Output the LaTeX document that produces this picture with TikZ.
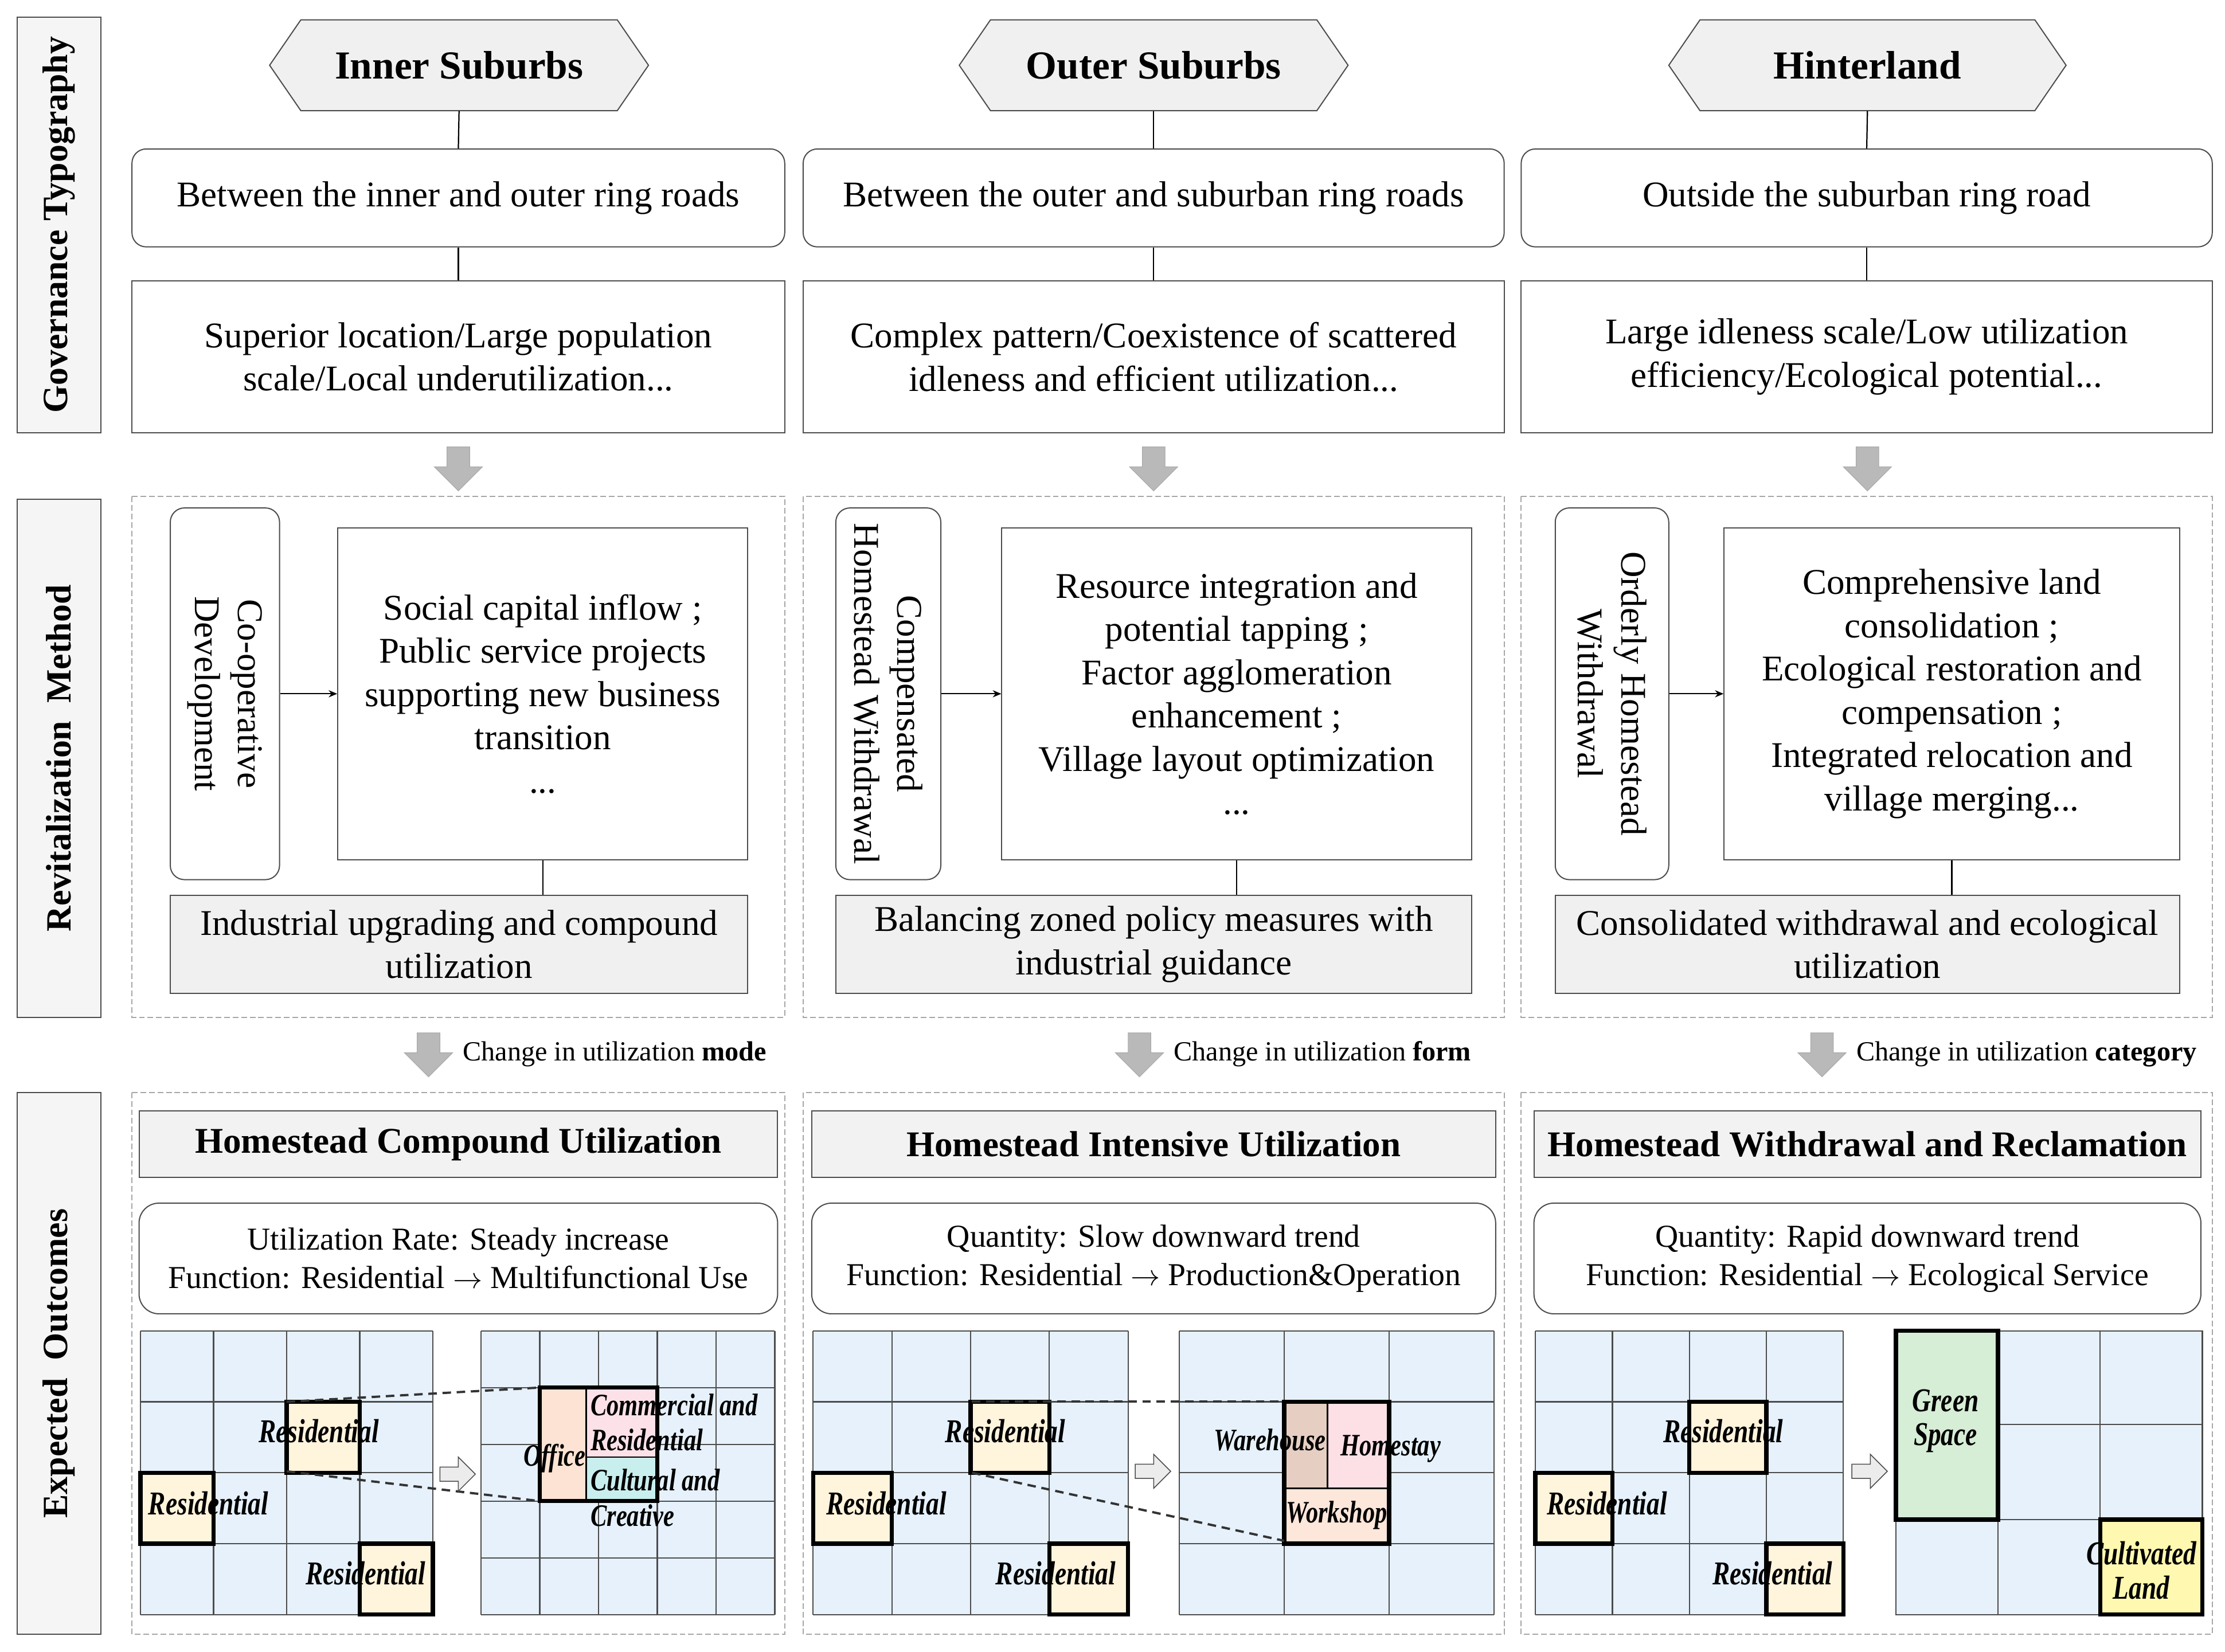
\documentclass[tikz,border=0pt]{standalone}
\usepackage{fontspec}
\setmainfont{Liberation Serif}
\usetikzlibrary{arrows.meta}
\definecolor{gridfill}{HTML}{E6F1FB}
\definecolor{resfill}{HTML}{FFF4DC}
\definecolor{offfill}{HTML}{FDE3D3}
\definecolor{comfill}{HTML}{FCE1E8}
\definecolor{culfill}{HTML}{C9EEEE}
\definecolor{warfill}{HTML}{E6CFC2}
\definecolor{homfill}{HTML}{FDE0E6}
\definecolor{wrkfill}{HTML}{FDE6DA}
\definecolor{grnfill}{HTML}{D6EDD6}
\definecolor{cultfill}{HTML}{FFF8B0}
\tikzset{
 mbox/.style={draw=gray!60!black,line width=0.8pt,fill=white,align=center,inner sep=2pt,font=\fontsize{25.5}{30.5}\selectfont},
 mrbox/.style={mbox,rounded corners=10pt},
 mgbox/.style={mbox,fill=gray!12},
 mside/.style={draw=gray!60!black,line width=0.8pt,fill=gray!8,font=\fontsize{25}{28}\selectfont\bfseries,rotate=90,align=center},
 mdbox/.style={draw=gray!70,line width=0.8pt,dash pattern=on 4pt off 2pt},
 mhex/.style={draw=gray!60!black,line width=0.8pt,fill=gray!12},
 mlink/.style={draw=black,line width=0.9pt},
 mgridline/.style={draw=gray!60!black,line width=0.9pt},
 mres/.style={draw=black,line width=3pt,fill=resfill},
 mblk/.style={draw=black,line width=3pt},
 mzoom/.style={draw=gray!40!black,line width=1.6pt,dash pattern=on 6pt off 4pt},
 mlbl/.style={inner sep=0pt},
 mobox/.style={mbox,rounded corners=14pt,font=\fontsize{22.5}{27}\selectfont},
 mttl/.style={mbox,fill=gray!10,font=\fontsize{25.5}{28}\selectfont\bfseries},
 mchg/.style={anchor=west,inner sep=0pt,font=\fontsize{19.5}{22}\selectfont},
}
\newcommand\gl[1]{\scalebox{0.78}[1]{\fontsize{23.5}{24}\selectfont\bfseries\itshape\begin{tabular}{@{}c@{}}#1\end{tabular}}}
\newcommand\gls[1]{\scalebox{0.78}[1]{\fontsize{22}{23}\selectfont\bfseries\itshape#1}}
\newcommand\mygrid[6]{%
 \fill[gridfill] (#1,#2) rectangle ++({#3*#5},{#4*#6});
 \foreach \i in {0,...,#5}{\draw[mgridline] ({#1+\i*#3},#2) -- ++(0,{#4*#6});}
 \foreach \j in {0,...,#6}{\draw[mgridline] (#1,{#2+\j*#4}) -- ++({#3*#5},0);}}
\newcommand\myres[5]{% x y cw ch prefix
 \draw[mres] ({#1+2*#3},{#2+#4}) rectangle ++(#3,#4);
 \draw[mres] (#1,{#2+2*#4}) rectangle ++(#3,#4);
 \draw[mres] ({#1+3*#3},{#2+3*#4}) rectangle ++(#3,#4);
 \node[mlbl] (#5a) at ({#1+2.44*#3},{#2+1.48*#4}) {\gl{Residential}};
 \node[mlbl] (#5b) at ({#1+0.93*#3},{#2+2.5*#4}) {\gl{Residential}};
 \node[mlbl] (#5c) at ({#1+3.08*#3},{#2+3.48*#4}) {\gl{Residential}};}
\newcommand\darrow[2]{\filldraw[fill=gray!55,draw=gray!70] ({#1-8},#2) -- ({#1+8},#2) -- ({#1+8},{#2+14}) -- ({#1+17},{#2+14}) -- (#1,{#2+31}) -- ({#1-17},{#2+14}) -- ({#1-8},{#2+14}) -- cycle;}
\newcommand\harrow[2]{\filldraw[fill=gray!15,draw=gray!60!black,line width=0.6pt] (#1,{#2-5}) -- ({#1+13},{#2-5}) -- ({#1+13},{#2-12}) -- ({#1+25},#2) -- ({#1+13},{#2+12}) -- ({#1+13},{#2+5}) -- (#1,{#2+5}) -- cycle;}
\begin{document}
\begin{tikzpicture}[x=1pt,y=-1pt]
\useasboundingbox (0,0) rectangle (1568,1164);
\fill[white] (0,0) rectangle (1568,1164);
% side labels
\node[mside,minimum width=293,minimum height=59] (s1) at (41.5,158.5) {Governance Typography};
\node[mside,minimum width=365,minimum height=59] (s2) at (41.5,534.5) {Revitalization\ \ Method};
\node[mside,minimum width=382,minimum height=59] (s3) at (41.5,961) {Expected\ \ Outcomes};
% containers
\draw[mdbox] (93,350) rectangle (553,717);
\draw[mdbox] (566,350) rectangle (1060,717);
\draw[mdbox] (1072,350) rectangle (1559,717);
\draw[mdbox] (93,770) rectangle (553,1152);
\draw[mdbox] (566,770) rectangle (1060,1152);
\draw[mdbox] (1072,770) rectangle (1559,1152);
% hexagons
\filldraw[mhex] (190,46) -- (212,14) -- (435,14) -- (457,46) -- (435,78) -- (212,78) -- cycle;
\filldraw[mhex] (676,46) -- (698,14) -- (928,14) -- (950,46) -- (928,78) -- (698,78) -- cycle;
\filldraw[mhex] (1176,46) -- (1198,14) -- (1434,14) -- (1456,46) -- (1434,78) -- (1198,78) -- cycle;
\node[font=\fontsize{28}{30}\selectfont\bfseries,minimum height=64] (h1) at (323.5,46) {Inner Suburbs};
\node[font=\fontsize{28}{30}\selectfont\bfseries,minimum height=64] (h2) at (813,46) {Outer Suburbs};
\node[font=\fontsize{28}{30}\selectfont\bfseries,minimum height=64] (h3) at (1316,46) {Hinterland};
% row 1
\node[mrbox,minimum width=460,minimum height=69] (a1) at (323,139.5) {Between the inner and outer ring roads};
\node[mrbox,minimum width=494,minimum height=69] (a2) at (813,139.5) {Between the outer and suburban ring roads};
\node[mrbox,minimum width=487,minimum height=69] (a3) at (1315.5,139.5) {Outside the suburban ring road};
\node[mbox,minimum width=460,minimum height=107] (b1) at (323,251.5) {Superior location/Large population\\scale/Local underutilization...};
\node[mbox,minimum width=494,minimum height=107] (b2) at (813,251.5) {Complex pattern/Coexistence of scattered\\idleness and efficient utilization...};
\node[mbox,minimum width=487,minimum height=107] (b3) at (1315.5,251.5) {Large idleness scale/Low utilization\\efficiency/Ecological potential...};
\foreach \i in {1,2,3}{\draw[mlink] (h\i.south) -- (a\i.north); \draw[mlink] (a\i.south) -- (b\i.north);}
\darrow{323}{315}\darrow{813}{315}\darrow{1316}{315}
% revitalization
\node[mrbox,rotate=-90,minimum width=262,minimum height=77] (v1) at (158.5,489) {Co-operative\\Development};
\node[mrbox,rotate=-90,minimum width=262,minimum height=74] (v2) at (626,489) {Compensated\\Homestead Withdrawal};
\node[mrbox,rotate=-90,minimum width=262,minimum height=80] (v3) at (1136,489) {Orderly Homestead\\Withdrawal};
\node[mbox,minimum width=289,minimum height=234] (r1) at (382.5,489) {Social capital inflow ;\\Public service projects\\supporting new business\\transition\\...};
\node[mbox,minimum width=331,minimum height=234] (r2) at (871.5,489) {Resource integration and\\potential tapping ;\\Factor agglomeration\\enhancement ;\\Village layout optimization\\...};
\node[mbox,minimum width=321,minimum height=234] (r3) at (1375.5,489) {Comprehensive land\\consolidation ;\\Ecological restoration and\\compensation ;\\Integrated relocation and\\village merging...};
\node[mgbox,minimum width=407,minimum height=69] (g1) at (323.5,665.5) {Industrial upgrading and compound\\utilization};
\node[mgbox,minimum width=448,minimum height=69] (g2) at (813,665.5) {Balancing zoned policy measures with\\industrial guidance};
\node[mgbox,minimum width=440,minimum height=69] (g3) at (1316,665.5) {Consolidated withdrawal and ecological\\utilization};
\foreach \i in {1,2,3}{\draw[mlink,-{Stealth[length=6pt,width=5pt]}] (v\i.north) -- (r\i.west); \draw[mlink] (r\i.south) -- (r\i.south |- g\i.north);}
% change arrows
\darrow{302}{728}\darrow{803}{728}\darrow{1284}{728}
\node[mchg] (c1) at (326,743) {Change in utilization \textbf{mode}};
\node[mchg] (c2) at (827,743) {Change in utilization \textbf{form}};
\node[mchg] (c3) at (1308,743) {Change in utilization \textbf{category}};
% outcomes
\node[mttl,minimum width=450,minimum height=47] (t1) at (323,806.5) {Homestead Compound Utilization};
\node[mttl,minimum width=482,minimum height=47] (t2) at (813,806.5) {Homestead Intensive Utilization};
\node[mttl,minimum width=470,minimum height=47] (t3) at (1316,806.5) {Homestead Withdrawal and Reclamation};
\node[mobox,minimum width=450,minimum height=78] (o1) at (323,887) {Utilization Rate: Steady increase\\Function: Residential $\rightarrow$ Multifunctional Use};
\node[mobox,minimum width=482,minimum height=78] (o2) at (813,887) {Quantity: Slow downward trend\\Function: Residential $\rightarrow$ Production\&Operation};
\node[mobox,minimum width=470,minimum height=78] (o3) at (1316,887) {Quantity: Rapid downward trend\\Function: Residential $\rightarrow$ Ecological Service};
% grids col1
\mygrid{99}{938}{51.5}{50}{4}{4}
\myres{99}{938}{51.5}{50}{p}
\mygrid{339}{938}{41.4}{40}{5}{5}
\fill[offfill] (380.4,978) rectangle (413,1058);
\fill[comfill] (413,978) rectangle (463.2,1027);
\fill[culfill] (413,1027) rectangle (463.2,1058);
\draw[line width=1.2pt] (413,978) -- (413,1058) (413,1027) -- (463.2,1027);
\draw[mblk] (380.4,978) rectangle (463.2,1058);
\coordinate (p1) at (202,988); \coordinate (p2) at (202,1037);
\coordinate (q1) at (380.4,978); \coordinate (q2) at (380.4,1058);
\draw[mzoom] (p1) -- (q1); \draw[mzoom] (p2) -- (q2);
\node[mlbl,anchor=west] (x1) at (416,990) {\gls{Commercial and}};
\node[mlbl,anchor=west] (x2) at (416,1015) {\gls{Residential}};
\node[mlbl] (x3) at (391,1028) {\gls{Office}};
\node[mlbl,anchor=west] (x4) at (416,1043) {\gls{Cultural and}};
\node[mlbl,anchor=west] (x5) at (416,1068) {\gls{Creative}};
\harrow{310}{1039}
% grids col2
\mygrid{573}{938}{55.5}{50}{4}{4}
\myres{573}{938}{55.5}{50}{m}
\mygrid{831}{938}{74}{50}{3}{4}
\fill[warfill] (905,988) rectangle (935.5,1049);
\fill[homfill] (935.5,988) rectangle (979,1049);
\fill[wrkfill] (905,1049) rectangle (979,1088);
\draw[line width=1.2pt] (935.5,988) -- (935.5,1049) (905,1049) -- (979,1049);
\draw[mblk] (905,988) rectangle (979,1088);
\coordinate (m1) at (685,988); \coordinate (m2) at (685,1038);
\coordinate (n1) at (905,988); \coordinate (n2) at (905,1086);
\draw[mzoom] (m1) -- (n1); \draw[mzoom] (m2) -- (n2);
\node[mlbl] (y1) at (895,1015) {\gls{Warehouse}};
\node[mlbl] (y2) at (980,1021) {\gls{Homestay}};
\node[mlbl] (y3) at (942,1068) {\gls{Workshop}};
\harrow{800}{1037}
% grids col3
\mygrid{1082}{938}{54.25}{50}{4}{4}
\myres{1082}{938}{54.25}{50}{k}
\fill[gridfill] (1336,938) rectangle (1552,1138);
\draw[mgridline] (1336,938) rectangle (1552,1138);
\draw[mgridline] (1408,938) -- (1408,1138) (1480,938) -- (1480,1138) (1408,1004) -- (1552,1004) (1336,1071) -- (1552,1071);
\draw[mblk,fill=grnfill] (1336,938) rectangle (1408,1071);
\draw[mblk,fill=cultfill] (1480,1071) rectangle (1552,1138);
\node[mlbl] (z1) at (1371,1002) {\gl{Green\\Space}};
\node[mlbl] (z2) at (1509,1110) {\gl{Cultivated\\Land}};
\harrow{1305}{1037}
\end{tikzpicture}
\end{document}
